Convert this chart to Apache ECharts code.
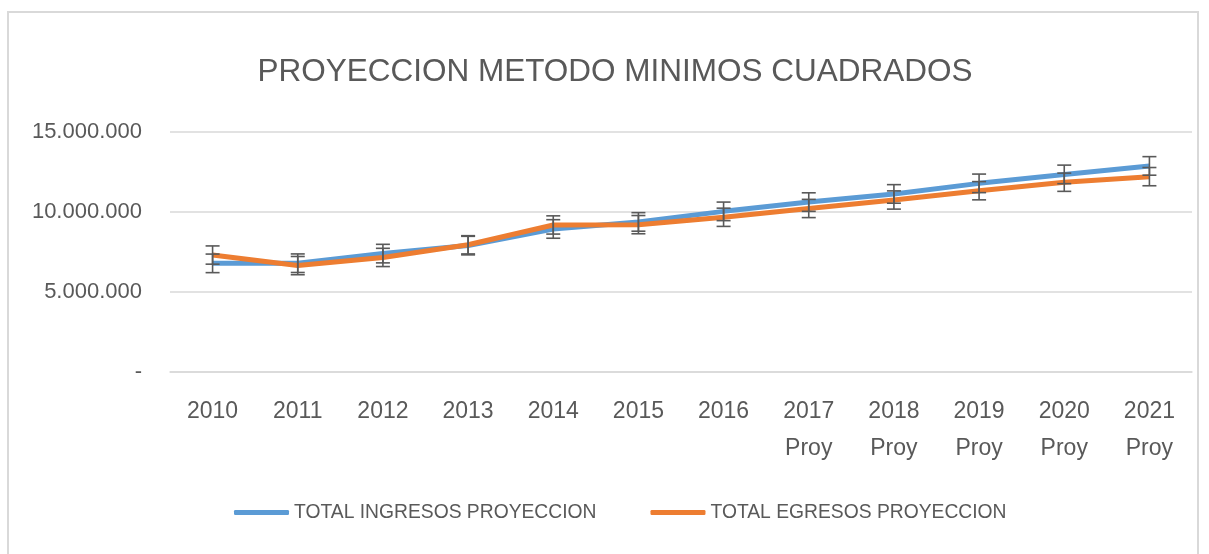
<!DOCTYPE html>
<html>
<head>
<meta charset="utf-8">
<script src="https://cdn.jsdelivr.net/npm/echarts@6/dist/echarts.min.js"></script>
<style>
  html, body { margin: 0; padding: 0; background: #fff; overflow: hidden; }
  #wrap { position: relative; width: 1209px; height: 554px; }
  #frame { position: absolute; left: 7px; top: 11px; width: 1192px; height: 560px; border: 2px solid #d9d9d9; box-sizing: border-box; }
  #chart { position: absolute; left: 0; top: 0; width: 1209px; height: 554px; }
</style>
</head>
<body>
<div id="wrap">
  <div id="frame"></div>
  <div id="chart"></div>
</div>
<script>
// categorias del eje x
const years = ['2010', '2011', '2012', '2013', '2014', '2015', '2016',
  '2017\nProy', '2018\nProy', '2019\nProy', '2020\nProy', '2021\nProy'];

// valores
const ingresos = [6790000, 6800000, 7400000, 7900000, 8940000, 9380000, 10040000,
  10620000, 11130000, 11790000, 12350000, 12880000];
const egresos = [7310000, 6650000, 7160000, 7950000, 9190000, 9210000, 9670000,
  10220000, 10750000, 11330000, 11860000, 12210000];

// barras de error (valor fijo)
const errIngresos = 580000;
const errEgresos = 570000;

const yTicks = [0, 5000000, 10000000, 15000000];

const seriesNames = ['TOTAL INGRESOS PROYECCION', 'TOTAL EGRESOS PROYECCION'];

const font = '"Liberation Sans", Arial, sans-serif';

const fmt = v => v === 0 ? '-' : String(v).replace(/\B(?=(\d{3})+(?!\d))/g, '.');

// datos para las barras de error: [indice, bajo, alto]
const errData = (vals, e) => vals.map((v, i) => [i, v - e, v + e]);

const renderErr = (params, api) => {
  const x = api.value(0);
  const lo = api.coord([x, api.value(1)]);
  const hi = api.coord([x, api.value(2)]);
  const cap = 7;
  const style = { stroke: '#595959', lineWidth: 1.6 };
  return {
    type: 'group',
    children: [
      { type: 'line', shape: { x1: lo[0], y1: lo[1], x2: hi[0], y2: hi[1] }, style },
      { type: 'line', shape: { x1: lo[0] - cap, y1: lo[1], x2: lo[0] + cap, y2: lo[1] }, style },
      { type: 'line', shape: { x1: hi[0] - cap, y1: hi[1], x2: hi[0] + cap, y2: hi[1] }, style }
    ]
  };
};

const myChart = echarts.init(document.getElementById('chart'));

const option = {
  animation: false,
  title: {
    text: 'PROYECCION METODO MINIMOS CUADRADOS',
    left: 610,
    textAlign: 'center',
    top: 51,
    textStyle: { fontFamily: font, fontSize: 31.5, fontWeight: 'normal', color: '#595959' }
  },
  legend: {
    data: seriesNames,
    left: 229,
    top: 498,
    itemWidth: 55,
    itemHeight: 5,
    itemGap: 54,
    icon: 'roundRect',
    textStyle: { fontFamily: font, fontSize: 19.3, color: '#595959' }
  },
  grid: { left: 170, right: 17, top: 132, bottom: 182 },
  xAxis: {
    type: 'category',
    data: years,
    boundaryGap: true,
    axisLine: { show: true, lineStyle: { color: '#d9d9d9', width: 1.5 } },
    axisTick: { show: false },
    axisLabel: {
      fontFamily: font, fontSize: 23, color: '#595959',
      margin: 21, lineHeight: 37, interval: 0
    }
  },
  yAxis: {
    type: 'value',
    min: yTicks[0],
    max: yTicks[yTicks.length - 1],
    interval: 5000000,
    axisLine: { show: false },
    axisTick: { show: false },
    splitLine: { lineStyle: { color: '#d9d9d9', width: 1.5 } },
    axisLabel: { fontFamily: font, fontSize: 22, color: '#595959', margin: 28, formatter: fmt }
  },
  series: [
    {
      name: seriesNames[0],
      type: 'line',
      data: ingresos,
      symbol: 'none',
      lineStyle: { color: '#5b9bd5', width: 5 },
      itemStyle: { color: '#5b9bd5' },
      z: 2
    },
    {
      name: seriesNames[1],
      type: 'line',
      data: egresos,
      symbol: 'none',
      lineStyle: { color: '#ed7d31', width: 5 },
      itemStyle: { color: '#ed7d31' },
      z: 3
    },
    {
      type: 'custom',
      renderItem: renderErr,
      data: errData(ingresos, errIngresos),
      encode: { x: 0, y: [1, 2] },
      z: 4,
      silent: true
    },
    {
      type: 'custom',
      renderItem: renderErr,
      data: errData(egresos, errEgresos),
      encode: { x: 0, y: [1, 2] },
      z: 4,
      silent: true
    }
  ]
};

myChart.setOption(option);
</script>
</body>
</html>
